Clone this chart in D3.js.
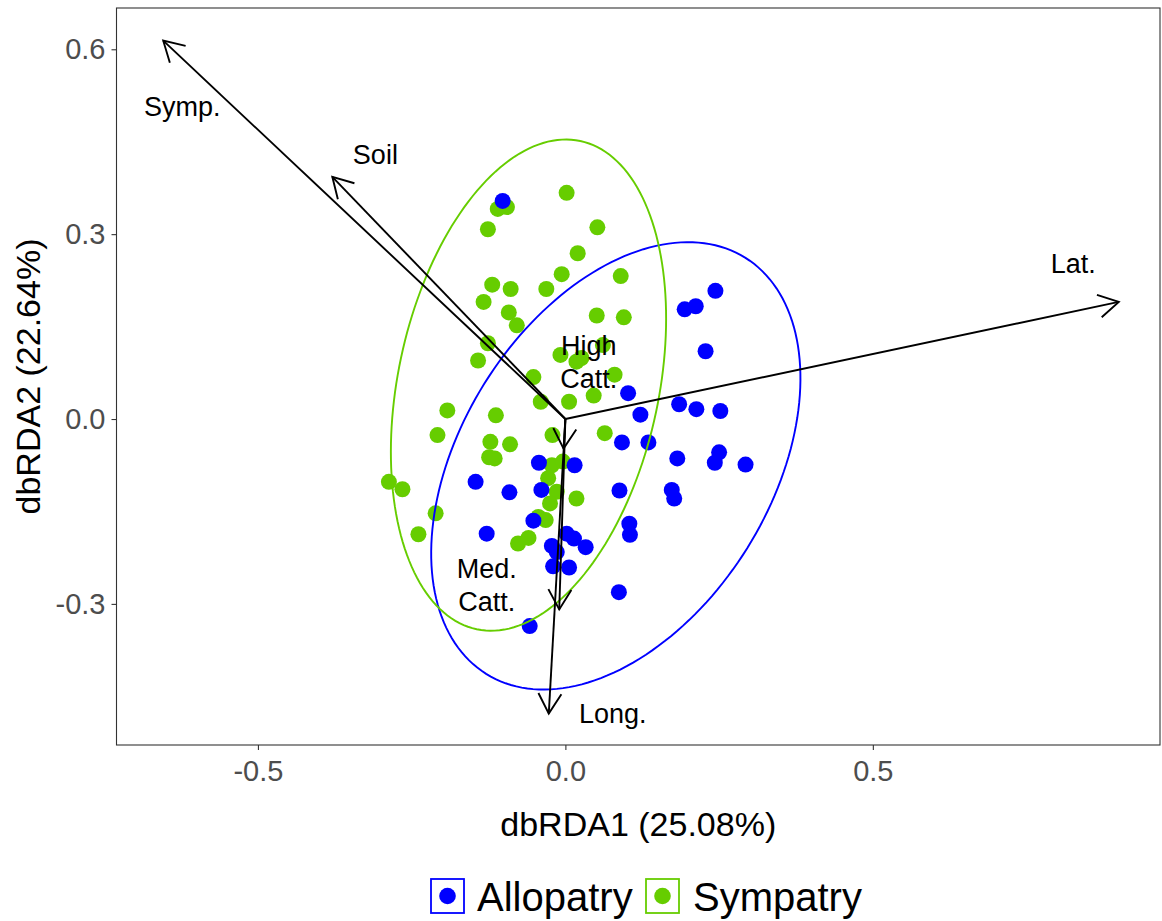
<!DOCTYPE html>
<html>
<head>
<meta charset="utf-8">
<script src="https://cdn.jsdelivr.net/npm/d3@7"></script>
<style>
  body { margin: 0; background: #ffffff; }
  text { font-family: "Liberation Sans", Arial, Helvetica, sans-serif; }
</style>
</head>
<body>
<svg id="chart" width="1162" height="921"></svg>
<script>
// Site scores on the first two dbRDA axes, by group
const alloX = [-0.102, 0.244, 0.194, 0.212, 0.228, 0.102, 0.122, 0.185, 0.213, 0.252,
               0.092, 0.135, 0.182, 0.250, 0.243, 0.293, 0.088, 0.173, 0.177, 0.104,
               0.105, 0.087, -0.058, -0.128, -0.146, -0.091, -0.043, 0.015, -0.039, -0.052,
               0.002, 0.014, 0.033, -0.022, -0.014, -0.020, 0.006];
const alloY = [0.354, 0.208, 0.178, 0.183, 0.110, 0.042, 0.007, 0.024, 0.016, 0.013,
               -0.038, -0.038, -0.064, -0.054, -0.071, -0.074, -0.116, -0.115, -0.129, -0.170,
               -0.188, -0.281, -0.336, -0.186, -0.102, -0.119, -0.071, -0.075, -0.115, -0.165,
               -0.186, -0.194, -0.208, -0.206, -0.216, -0.239, -0.241];

const sympX = [0.002, -0.110, -0.095, -0.126, 0.052, 0.020, -0.006, 0.090, -0.119, -0.089,
               -0.031, -0.133, -0.092, -0.079, 0.051, 0.095, -0.126, -0.142, -0.008, 0.018,
               0.026, 0.061, 0.080, -0.052, -0.040, 0.006, 0.046, -0.192, -0.113, -0.208,
               -0.122, -0.090, -0.021, 0.064, -0.124, -0.115, -0.287, -0.265, -0.211, -0.239,
               -0.022, -0.004, -0.028, -0.014, 0.018, -0.025, -0.044, -0.032, -0.077, -0.060];
const sympY = [0.367, 0.341, 0.344, 0.308, 0.311, 0.269, 0.235, 0.232, 0.218, 0.211,
               0.211, 0.190, 0.173, 0.152, 0.168, 0.165, 0.123, 0.095, 0.104, 0.093,
               0.099, 0.120, 0.072, 0.068, 0.028, 0.028, 0.038, 0.014, 0.006, -0.026,
               -0.037, -0.041, -0.026, -0.023, -0.062, -0.064, -0.102, -0.114, -0.153, -0.187,
               -0.075, -0.069, -0.096, -0.118, -0.129, -0.137, -0.159, -0.164, -0.202, -0.193];

// Group names and colours
const groups = ["Allopatry", "Sympatry"];
const groupColors = ["#0000FF", "#66CD00"];

// 95% ellipses per group: centre, semi-axes and rotation (degrees)
const ellCx = [0.082, -0.060];
const ellCy = [-0.076, 0.055];
const ellA = [0.398, 0.405];
const ellB = [0.252, 0.212];
const ellAngle = [58, 78];

// Fitted environmental vectors
const vecNames = ["Symp.", "Soil", "Lat.", "Long.", "High\nCatt.", "Med.\nCatt."];
const vecX = [-0.654, -0.379, 0.900, -0.027, -0.003, -0.010];
const vecY = [0.614, 0.393, 0.190, -0.478, -0.048, -0.309];
const labelX = [-0.623, -0.309, 0.826, 0.077, 0.038, -0.128];
const labelY = [0.507, 0.430, 0.253, -0.478, 0.093, -0.269];

// Axes
const xTicks = [-0.5, 0.0, 0.5];
const yTicks = [-0.3, 0.0, 0.3, 0.6];
const xTitle = "dbRDA1 (25.08%)";
const yTitle = "dbRDA2 (22.64%)";

const svg = d3.select("#chart");
const panel = { left: 116.5, right: 1160, top: 8, bottom: 745 };

const x = d3.scaleLinear().domain([-0.730, 0.967]).range([panel.left, panel.right]);
const y = d3.scaleLinear().domain([-0.529, 0.667]).range([panel.bottom, panel.top]);

const fmt = d => d.toFixed(1);

// Axes with ticks
const gx = svg.append("g").attr("transform", `translate(0,${panel.bottom})`)
  .call(d3.axisBottom(x).tickValues(xTicks).tickFormat(fmt).tickSize(5).tickPadding(10));
const gy = svg.append("g").attr("transform", `translate(${panel.left},0)`)
  .call(d3.axisLeft(y).tickValues(yTicks).tickFormat(fmt).tickSize(5).tickPadding(6));
[gx, gy].forEach(g => {
  g.select(".domain").remove();
  g.selectAll(".tick line").attr("stroke", "#333333").attr("stroke-width", 1.1);
  g.selectAll(".tick text").attr("fill", "#4D4D4D").style("font-size", "29px")
    .style("font-family", '"Liberation Sans", Arial, sans-serif');
});

// Points
const pts = svg.append("g");
const sympData = sympX.map((v, i) => ({ x: v, y: sympY[i] }));
const alloData = alloX.map((v, i) => ({ x: v, y: alloY[i] }));
pts.selectAll("circle.symp").data(sympData).join("circle")
  .attr("class", "symp")
  .attr("cx", d => x(d.x)).attr("cy", d => y(d.y)).attr("r", 8)
  .attr("fill", groupColors[1]);
pts.selectAll("circle.allo").data(alloData).join("circle")
  .attr("class", "allo")
  .attr("cx", d => x(d.x)).attr("cy", d => y(d.y)).attr("r", 8)
  .attr("fill", groupColors[0]);

// Ellipses
const line = d3.line().x(d => x(d[0])).y(d => y(d[1]));
groups.forEach((g, i) => {
  const th = ellAngle[i] * Math.PI / 180;
  const ring = d3.range(0, 361, 2).map(t => {
    const r = t * Math.PI / 180;
    const dx = ellA[i] * Math.cos(r), dy = ellB[i] * Math.sin(r);
    return [ellCx[i] + dx * Math.cos(th) - dy * Math.sin(th),
            ellCy[i] + dx * Math.sin(th) + dy * Math.cos(th)];
  });
  svg.append("path").attr("d", line(ring))
    .attr("fill", "none").attr("stroke", groupColors[i]).attr("stroke-width", 1.9);
});

// Vectors with open arrow heads
const arrows = svg.append("g").attr("stroke", "#000").attr("stroke-width", 1.9)
  .attr("fill", "none").attr("stroke-linecap", "butt");
const headLen = 23, headAng = 30 * Math.PI / 180;
vecX.forEach((vx, i) => {
  const x0 = x(0), y0 = y(0), x1 = x(vx), y1 = y(vecY[i]);
  arrows.append("line").attr("x1", x0).attr("y1", y0).attr("x2", x1).attr("y2", y1);
  const a = Math.atan2(y1 - y0, x1 - x0);
  const p1 = [x1 - headLen * Math.cos(a - headAng), y1 - headLen * Math.sin(a - headAng)];
  const p2 = [x1 - headLen * Math.cos(a + headAng), y1 - headLen * Math.sin(a + headAng)];
  arrows.append("path").attr("d", `M${p1[0]},${p1[1]}L${x1},${y1}L${p2[0]},${p2[1]}`);
});

// Vector labels
const labels = svg.append("g");
vecNames.forEach((n, i) => {
  const lines = n.split("\n");
  const t = labels.append("text")
    .attr("x", x(labelX[i])).attr("y", y(labelY[i]))
    .attr("text-anchor", "middle").style("font-size", "27px").attr("fill", "#000");
  const lh = 33.5;
  lines.forEach((s, k) => {
    t.append("tspan").attr("x", x(labelX[i]))
      .attr("y", y(labelY[i]) + 9.6 + (k - (lines.length - 1) / 2) * lh)
      .text(s);
  });
});

// Panel border
svg.append("rect")
  .attr("x", panel.left).attr("y", panel.top)
  .attr("width", panel.right - panel.left).attr("height", panel.bottom - panel.top)
  .attr("fill", "none").attr("stroke", "#333333").attr("stroke-width", 1.1);

// Axis titles
svg.append("text").attr("x", (panel.left + panel.right) / 2).attr("y", 836)
  .attr("text-anchor", "middle").style("font-size", "34px").text(xTitle);
svg.append("text")
  .attr("transform", `translate(40,${(panel.top + panel.bottom) / 2}) rotate(-90)`)
  .attr("text-anchor", "middle").style("font-size", "34px").text(yTitle);

// Legend
const leg = svg.append("g");
const keyX = [431, 646];
const textX = [477, 693];
groups.forEach((g, i) => {
  leg.append("rect").attr("x", keyX[i]).attr("y", 879).attr("width", 33).attr("height", 34)
    .attr("fill", "#fff").attr("stroke", groupColors[i]).attr("stroke-width", 1.8);
  leg.append("circle").attr("cx", keyX[i] + 16.5).attr("cy", 896).attr("r", 8.3)
    .attr("fill", groupColors[i]);
  leg.append("text").attr("x", textX[i]).attr("y", 911).style("font-size", "40px").text(g);
});
</script>
</body>
</html>
